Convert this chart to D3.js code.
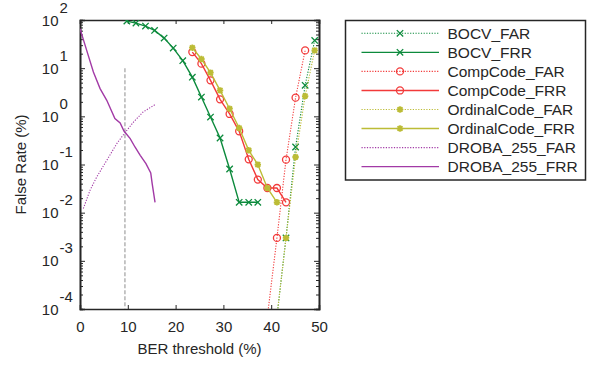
<!DOCTYPE html>
<html>
<head>
<meta charset="utf-8">
<script src="https://d3js.org/d3.v7.min.js"></script>
<style>
  body { margin: 0; background: #fff; }
  svg { font-family: "Liberation Sans", Arial, Helvetica, sans-serif; }
  .axis path, .axis line { stroke: #262626; }
  .axis text { fill: #262626; font-size: 15px; }
</style>
</head>
<body>
<div id="chart"></div>
<script>
// BER threshold (%) per series
var berBocvFar = [41.2, 43.1, 45.1, 47.1, 49.1];
var bocvFar    = [7e-5, 0.00299, 0.231, 4.40, 37.7];
var berBocvFrr = [9.8, 11.7, 13.7, 15.6, 17.6, 19.5, 21.5, 23.5, 25.4, 27.3, 29.3, 31.3, 33.3, 35.3, 37.2];
var bocvFrr    = [94.9, 86.2, 74.7, 60.8, 42.1, 26.1, 14.3, 6.5, 2.51, 0.967, 0.355, 0.0807, 0.0164, 0.0164, 0.0164];

var berCompFar = [39.2, 41.2, 43.1, 45.1, 47.1];
var compFar    = [7e-5, 0.00299, 0.126, 2.44, 23.4];
var berCompFrr = [23.5, 25.4, 27.3, 29.3, 31.3, 33.3, 35.3, 37.2, 39.2, 41.2, 43.1];
var compFrr    = [21.6, 12.4, 5.58, 2.25, 1.12, 0.489, 0.128, 0.0486, 0.0325, 0.0325, 0.0164];

var berOrdFar = [41.2, 43.1, 45.1, 47.1, 49.1];
var ordFar    = [7e-5, 0.00299, 0.143, 2.64, 23.4];
var berOrdFrr = [23.5, 25.4, 27.3, 29.3, 31.3, 33.3, 35.3, 37.2, 39.2, 41.2];
var ordFrr    = [26.6, 15.5, 8.07, 3.46, 1.44, 0.572, 0.197, 0.0995, 0.0325, 0.0164];

var berDrobaFar = [0.7, 2.1, 3.5, 5.6, 7.7, 9.4, 11.2, 13.2, 15.7];
var drobaFar    = [0.0122, 0.0292, 0.055, 0.122, 0.272, 0.455, 0.762, 1.23, 1.75];
var berDrobaFrr = [0, 1.4, 2.8, 4.2, 5.6, 7.3, 8.4, 9.2, 10.5, 11.5, 12.6, 13.8, 14.8, 15.1, 15.7];
var drobaFrr    = [66, 23.4, 8.3, 3.76, 2.15, 0.896, 0.726, 0.495, 0.344, 0.231, 0.155, 0.104, 0.0668, 0.0402, 0.0164];

// equal error threshold marker
var eerBer = 9.4;
var eerRange = [10, 1e-4];

var xTicks = [0, 10, 20, 30, 40, 50];
var yExponents = [-4, -3, -2, -1, 0, 1, 2];

var seriesNames = ["BOCV_FAR", "BOCV_FRR", "CompCode_FAR", "CompCode_FRR",
                   "OrdinalCode_FAR", "OrdinalCode_FRR", "DROBA_255_FAR", "DROBA_255_FRR"];

var green = "#0c8a3c", red = "#f23a3a", olive = "#bcbc36", purple = "#a23aa6";

var series = [
  {name: seriesNames[0], x: berBocvFar,  y: bocvFar,  color: green,  dotted: true,  marker: "x"},
  {name: seriesNames[1], x: berBocvFrr,  y: bocvFrr,  color: green,  dotted: false, marker: "x"},
  {name: seriesNames[2], x: berCompFar,  y: compFar,  color: red,    dotted: true,  marker: "o"},
  {name: seriesNames[3], x: berCompFrr,  y: compFrr,  color: red,    dotted: false, marker: "o"},
  {name: seriesNames[4], x: berOrdFar,   y: ordFar,   color: olive,  dotted: true,  marker: "*"},
  {name: seriesNames[5], x: berOrdFrr,   y: ordFrr,   color: olive,  dotted: false, marker: "*"},
  {name: seriesNames[6], x: berDrobaFar, y: drobaFar, color: purple, dotted: true,  marker: null},
  {name: seriesNames[7], x: berDrobaFrr, y: drobaFrr, color: purple, dotted: false, marker: null}
];

var W = 591, H = 366;
var L = 80, R = 319, T = 20, B = 309;

var svg = d3.select("#chart").append("svg")
    .attr("width", W)
    .attr("height", H);

var x = d3.scaleLinear().domain([0, 50]).range([L, R]);
var y = d3.scaleLog().domain([1e-4, 1e2]).range([B, T]);

var majors = yExponents.map(function(e) { return Math.pow(10, e); });
var minors = [];
for (var e = -4; e < 2; e++) {
  for (var k = 2; k <= 9; k++) minors.push(k * Math.pow(10, e));
}

svg.append("defs").append("clipPath").attr("id", "plotClip")
  .append("rect").attr("x", L).attr("y", T).attr("width", R - L).attr("height", B - T);

// frame ticks (inward, all four sides)
svg.append("g").attr("class", "axis").attr("transform", "translate(" + L + ",0)")
  .call(d3.axisLeft(y).tickValues(majors).tickSize(-5).tickFormat(""));
svg.append("g").attr("class", "axis").attr("transform", "translate(" + L + ",0)")
  .call(d3.axisLeft(y).tickValues(minors).tickSize(-3).tickFormat(""));
svg.append("g").attr("class", "axis").attr("transform", "translate(" + R + ",0)")
  .call(d3.axisRight(y).tickValues(majors).tickSize(-5).tickFormat(""));
svg.append("g").attr("class", "axis").attr("transform", "translate(" + R + ",0)")
  .call(d3.axisRight(y).tickValues(minors).tickSize(-3).tickFormat(""));
svg.append("g").attr("class", "axis").attr("transform", "translate(0," + T + ")")
  .call(d3.axisTop(x).tickValues(xTicks).tickSize(-4).tickFormat(""));
var xAxis = svg.append("g").attr("class", "axis").attr("transform", "translate(0," + B + ")")
  .call(d3.axisBottom(x).tickValues(xTicks).tickSize(-4).tickPadding(12).tickFormat(d3.format("d")));

svg.selectAll(".axis .domain").attr("stroke-width", 1.6);
svg.selectAll(".axis line").attr("stroke-width", 1);

// y tick labels 10^e
var yLab = svg.append("g").attr("fill", "#262626").style("font-size", "15px");
yExponents.forEach(function(ex) {
  var py = y(Math.pow(10, ex));
  yLab.append("text").attr("x", 58.5).attr("y", py + 5.5).attr("text-anchor", "end").text("10");
  yLab.append("text").attr("x", 59.5).attr("y", py - 7.5).attr("text-anchor", "start").text(String(ex));
});

// axis titles
svg.append("text")
  .attr("x", (L + R) / 2).attr("y", 354)
  .attr("text-anchor", "middle").attr("fill", "#262626").style("font-size", "15px")
  .text("BER threshold (%)");
svg.append("text")
  .attr("transform", "translate(26," + ((T + B) / 2) + ") rotate(-90)")
  .attr("text-anchor", "middle").attr("fill", "#262626").style("font-size", "15px")
  .text("False Rate (%)");

var plot = svg.append("g").attr("clip-path", "url(#plotClip)");

// EER dashed line
plot.append("line")
  .attr("x1", x(eerBer)).attr("x2", x(eerBer))
  .attr("y1", y(eerRange[0])).attr("y2", y(eerRange[1]))
  .attr("stroke", "#a8a8a8").attr("stroke-width", 1.3).attr("stroke-dasharray", "4,2");

function drawMarker(g, kind, cx, cy, color) {
  var s = 3.2;
  if (kind === "x") {
    g.append("path")
      .attr("d", "M" + (cx - s) + "," + (cy - s) + "L" + (cx + s) + "," + (cy + s) +
                 "M" + (cx - s) + "," + (cy + s) + "L" + (cx + s) + "," + (cy - s))
      .attr("stroke", color).attr("stroke-width", 1.3).attr("fill", "none");
  } else if (kind === "o") {
    g.append("circle").attr("cx", cx).attr("cy", cy).attr("r", 3.5)
      .attr("stroke", color).attr("stroke-width", 1.3).attr("fill", "none");
  } else if (kind === "*") {
    var d = s * 0.75;
    g.append("path")
      .attr("d", "M" + (cx - s) + "," + cy + "L" + (cx + s) + "," + cy +
                 "M" + cx + "," + (cy - s) + "L" + cx + "," + (cy + s) +
                 "M" + (cx - d) + "," + (cy - d) + "L" + (cx + d) + "," + (cy + d) +
                 "M" + (cx - d) + "," + (cy + d) + "L" + (cx + d) + "," + (cy - d))
      .attr("stroke", color).attr("stroke-width", 1.8).attr("fill", "none");
  }
}

var line = d3.line()
  .x(function(d) { return x(d[0]); })
  .y(function(d) { return y(d[1]); });

series.forEach(function(s) {
  var pts = d3.zip(s.x, s.y);
  plot.append("path")
    .datum(pts)
    .attr("d", line)
    .attr("fill", "none")
    .attr("stroke", s.color)
    .attr("stroke-width", s.dotted ? 1.1 : 1.4)
    .attr("stroke-dasharray", s.dotted ? "1.2,1.5" : null);
  if (s.marker) {
    pts.forEach(function(p) {
      if (p[1] >= 1e-4) drawMarker(plot, s.marker, x(p[0]), y(p[1]), s.color);
    });
  }
});

// legend
var leg = svg.append("g");
leg.append("rect")
  .attr("x", 345.5).attr("y", 20.5).attr("width", 240).attr("height", 159.5)
  .attr("fill", "#fff").attr("stroke", "#262626").attr("stroke-width", 1.5);
series.forEach(function(s, i) {
  var ry = 33.3 + i * 19.05;
  leg.append("line")
    .attr("x1", 361.5).attr("x2", 439).attr("y1", ry).attr("y2", ry)
    .attr("stroke", s.color)
    .attr("stroke-width", s.dotted ? 1.1 : 1.4)
    .attr("stroke-dasharray", s.dotted ? "1.2,1.5" : null);
  if (s.marker) drawMarker(leg, s.marker, 400, ry, s.color);
  leg.append("text")
    .attr("x", 447.5).attr("y", ry + 5.3)
    .attr("fill", "#262626").style("font-size", "15.5px")
    .text(s.name);
});
</script>
</body>
</html>
